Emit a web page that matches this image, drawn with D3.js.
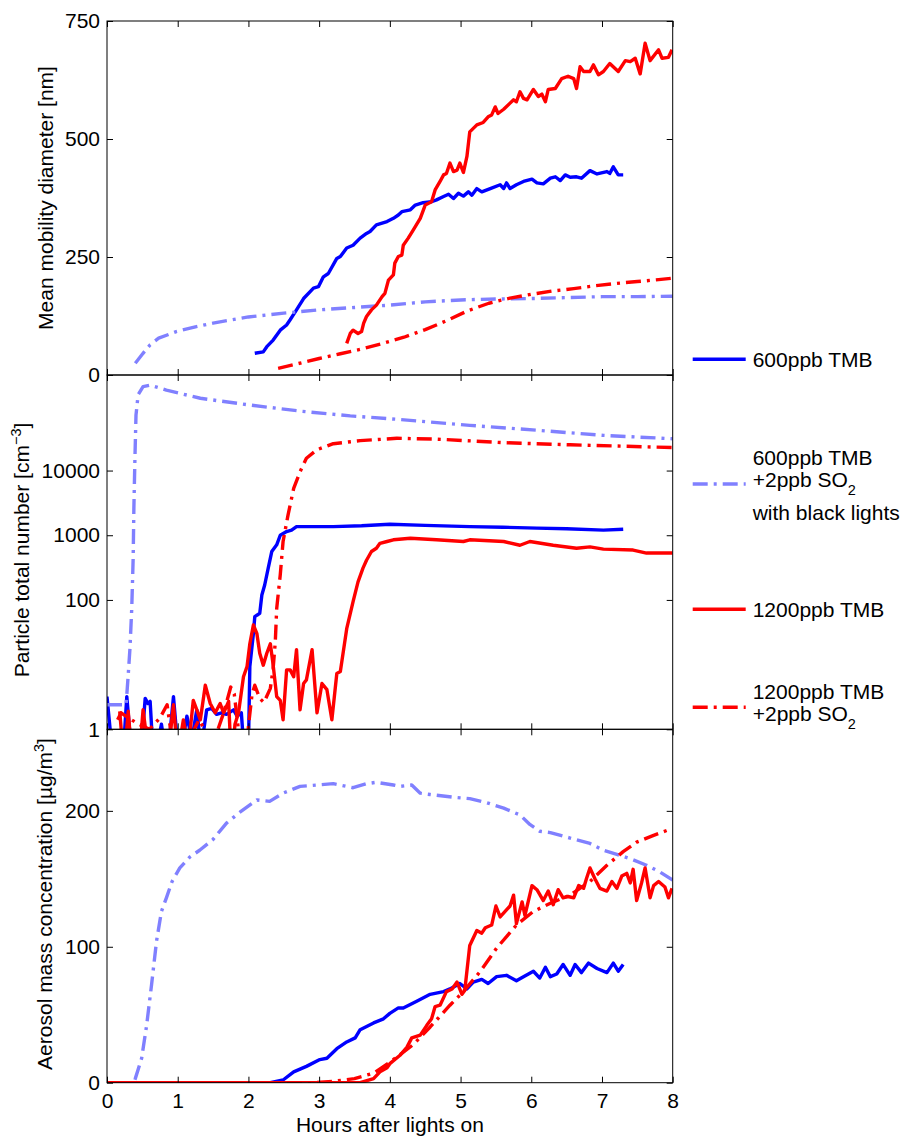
<!DOCTYPE html>
<html><head><meta charset="utf-8">
<script src="https://cdn.jsdelivr.net/npm/d3@7"></script>
<style>
body{margin:0;background:#fff}
text{font-family:"Liberation Sans",Arial,Helvetica,sans-serif;fill:#000}
</style>
</head><body>
<svg id="chart" width="907" height="1139"></svg>
<script>
// ---------- tick values ----------
const hourTicks = [0,1,2,3,4,5,6,7,8];
const diamTicks = [0,250,500,750];
const numTicks  = [1,100,1000,10000];
const massTicks = [0,100,200];

// ---------- series names / legend ----------
const seriesNames = ["600ppb TMB","600ppb TMB +2ppb SO2 with black lights","1200ppb TMB","1200ppb TMB +2ppb SO2"];

// ---------- Panel 1: mean mobility diameter [nm]  ([hour, value]) ----------
const diam600 = [[2.09,46],[2.21,49],[2.26,60],[2.35,74],[2.45,95],[2.54,106],[2.59,117],[2.68,138],[2.78,162],[2.92,184],[2.99,187],[3.06,208],[3.13,215],[3.25,247],[3.30,251],[3.39,269],[3.48,275],[3.58,290],[3.67,300],[3.72,304],[3.81,318],[3.96,325],[4.05,332],[4.12,339],[4.17,346],[4.29,350],[4.36,360],[4.47,365],[4.59,367],[4.66,371],[4.76,378],[4.83,383],[4.90,374],[4.97,385],[5.04,379],[5.11,388],[5.16,381],[5.23,395],[5.30,388],[5.42,395],[5.56,403],[5.61,395],[5.65,407],[5.70,395],[5.79,403],[5.89,410],[6.01,415],[6.08,407],[6.17,405],[6.27,417],[6.34,420],[6.41,412],[6.48,424],[6.55,419],[6.64,420],[6.71,417],[6.83,433],[6.93,426],[7.07,431],[7.11,427],[7.16,441],[7.23,424],[7.30,424]];
const diam600SO2 = [[0.40,25],[0.51,46],[0.61,64],[0.73,78],[0.98,92],[1.25,102],[1.5,110],[2.0,123],[2.5,131],[3.0,138],[3.5,143],[4.0,148],[4.5,155],[5.0,159],[5.5,161],[6.0,162],[6.5,164],[7.0,166],[7.5,166],[8.0,167]];
const diam1200 = [[3.39,67],[3.44,88],[3.48,95],[3.55,88],[3.60,92],[3.63,110],[3.67,124],[3.74,138],[3.81,148],[3.89,166],[3.93,173],[3.98,201],[4.05,212],[4.07,237],[4.12,251],[4.17,254],[4.19,275],[4.26,290],[4.33,307],[4.43,332],[4.50,360],[4.59,367],[4.64,392],[4.71,410],[4.76,424],[4.80,427],[4.85,449],[4.90,431],[4.95,434],[4.99,449],[5.04,429],[5.09,463],[5.13,515],[5.23,530],[5.32,535],[5.39,547],[5.44,551],[5.49,568],[5.53,554],[5.61,563],[5.70,576],[5.75,583],[5.79,579],[5.84,600],[5.89,586],[5.94,583],[6.03,605],[6.10,590],[6.15,595],[6.20,579],[6.24,605],[6.34,607],[6.43,628],[6.52,633],[6.60,628],[6.64,607],[6.69,653],[6.74,643],[6.83,643],[6.88,657],[6.95,636],[7.02,643],[7.11,660],[7.23,643],[7.33,666],[7.40,664],[7.47,671],[7.54,638],[7.61,703],[7.68,666],[7.80,689],[7.85,671],[7.94,673],[7.99,689]];
const diam1200SO2 = [[2.42,14],[2.7,24],[3.0,35],[3.3,45],[3.6,55],[3.9,67],[4.2,80],[4.5,96],[4.8,115],[5.1,136],[5.4,152],[5.7,163],[6.0,171],[6.3,178],[6.6,183],[6.9,189],[7.2,194],[7.5,198],[7.8,202],[8.0,205]];

// ---------- Panel 2: particle total number [cm^-3] (log) ----------
const num600 = [[0,3.2],[0.09,0.3],[0.22,0.3],[0.28,3.2],[0.36,0.3],[0.47,0.3],[0.54,3.0],[0.58,2.5],[0.61,2.7],[0.66,0.3],[0.77,1.2],[0.85,0.3],[0.94,3.2],[1.02,0.3],[1.13,1.6],[1.2,0.7],[1.27,2.0],[1.33,0.5],[1.41,2.0],[1.48,2.1],[1.55,1.7],[1.62,1.8],[1.69,1.7],[1.79,2.0],[1.84,1.6],[1.9,1.8],[1.95,0.3],[2.0,0.5],[2.02,9.3],[2.07,30],[2.09,55],[2.12,58],[2.16,62],[2.19,119],[2.23,170],[2.28,310],[2.33,560],[2.40,710],[2.45,1000],[2.54,1140],[2.61,1200],[2.68,1360],[3.2,1360],[3.6,1400],[4.0,1480],[4.5,1420],[5.13,1360],[5.6,1330],[6.08,1290],[6.5,1260],[7.02,1200],[7.30,1240]];
const num600SO2 = [[0,2.4],[0.27,2.4],[0.28,3.4],[0.30,6.9],[0.325,18],[0.35,74],[0.37,440],[0.38,2600],[0.395,15500],[0.41,72000],[0.44,148000],[0.51,198000],[0.61,209000],[0.84,175000],[1.32,131000],[2.02,103000],[2.73,83000],[3.44,70000],[4.10,62000],[5.13,50000],[6.08,42000],[7.02,35000],[8.0,31000]];
const num1200 = [[0.18,1.9],[0.24,0.3],[0.30,1.9],[0.36,0.3],[0.45,0.3],[0.51,2.0],[0.58,0.5],[0.63,0.3],[0.85,0.3],[0.94,2.4],[1.0,0.4],[1.08,1.4],[1.15,0.5],[1.22,2.8],[1.27,2.0],[1.32,1.4],[1.39,4.8],[1.46,2.5],[1.53,1.8],[1.60,2.5],[1.65,1.8],[1.72,2.7],[1.76,0.3],[1.81,1.2],[1.86,1.8],[1.93,6.5],[1.98,9.3],[2.02,21],[2.07,41],[2.12,30],[2.16,15],[2.21,9.8],[2.26,15],[2.31,21],[2.35,9.8],[2.40,3.2],[2.45,2.8],[2.49,1.4],[2.54,8.3],[2.59,8.3],[2.64,6.5],[2.68,17],[2.73,2.0],[2.78,5.1],[2.82,5.8],[2.90,17],[2.97,1.8],[3.04,5.1],[3.11,4.1],[3.18,1.4],[3.25,7.3],[3.30,7.8],[3.39,36],[3.48,94],[3.55,190],[3.62,310],[3.67,410],[3.74,560],[3.81,630],[3.86,750],[3.96,800],[4.05,850],[4.29,900],[4.66,850],[5.04,800],[5.13,850],[5.61,800],[5.84,700],[5.98,800],[6.31,700],[6.64,630],[6.83,660],[7.02,610],[7.44,590],[7.63,530],[8.0,530]];
const num1200SO2 = [[0.15,1.4],[0.2,1.8],[0.3,1.5],[0.45,1.2],[0.6,1.0],[0.75,1.5],[0.85,2.4],[0.95,0.4],[1.1,0.5],[1.3,1.4],[1.5,0.6],[1.65,1.8],[1.75,4.5],[1.8,3.5],[1.9,0.4],[1.98,0.5],[2.0,1.1],[2.05,3.4],[2.09,4.8],[2.16,3.0],[2.22,2.6],[2.31,4.3],[2.35,8.8],[2.38,22.6],[2.40,74],[2.45,243],[2.49,800],[2.56,2050],[2.64,5300],[2.73,9600],[2.82,15500],[2.97,21000],[3.2,26000],[3.58,29000],[4.1,31500],[4.66,30600],[5.61,27000],[6.55,25000],[8.0,22700]];

// ---------- Panel 3: aerosol mass concentration [ug/m3] ----------
const mass600 = [[0,0],[2.31,0],[2.49,2],[2.64,8],[2.82,12],[3.01,17],[3.11,18],[3.25,25],[3.39,30],[3.51,33],[3.58,39],[3.77,44],[3.91,47],[4.0,51],[4.12,55],[4.19,55],[4.38,60],[4.57,65],[4.76,67],[4.85,69],[4.99,73],[5.09,69],[5.18,74],[5.30,76],[5.39,73],[5.51,78],[5.65,79],[5.79,75],[5.89,78],[6.03,82],[6.12,77],[6.20,85],[6.27,78],[6.36,80],[6.45,87],[6.55,79],[6.62,87],[6.71,81],[6.81,88],[6.93,84],[7.07,81],[7.16,88],[7.23,82],[7.30,87]];
const mass600SO2 = [[0,0],[0.38,0],[0.40,3],[0.49,18],[0.56,42],[0.63,72],[0.70,104],[0.77,126],[0.84,136],[0.92,148],[1.03,158],[1.17,166],[1.31,171],[1.50,179],[1.69,191],[1.88,199],[2.12,208],[2.3,207],[2.49,213],[2.73,218],[2.97,219],[3.20,220],[3.48,217],[3.67,220],[3.81,221],[4.05,219],[4.14,218],[4.31,219],[4.43,213],[4.57,212],[4.90,210],[5.13,209],[5.37,206],[5.61,202],[5.84,197],[5.98,190],[6.12,185],[6.27,184],[6.55,180],[6.83,176],[7.02,171],[7.21,168],[7.44,164],[7.63,160],[7.82,155],[8.0,149]];
const mass1200 = [[0,0],[3.58,0],[3.77,3],[3.86,8],[3.96,11],[4.0,14],[4.14,20],[4.24,26],[4.31,33],[4.43,35],[4.52,42],[4.59,47],[4.64,56],[4.71,57],[4.80,67],[4.88,69],[4.95,74],[5.02,65],[5.06,68],[5.13,101],[5.23,112],[5.30,110],[5.35,114],[5.44,116],[5.50,130],[5.56,122],[5.70,130],[5.75,138],[5.79,117],[5.87,133],[5.91,123],[6.01,145],[6.08,142],[6.17,134],[6.24,141],[6.31,131],[6.38,142],[6.45,136],[6.52,137],[6.60,136],[6.67,145],[6.74,143],[6.78,150],[6.83,158],[6.90,150],[6.97,143],[7.07,141],[7.14,148],[7.21,143],[7.28,152],[7.35,154],[7.40,147],[7.44,157],[7.49,134],[7.56,147],[7.61,158],[7.68,136],[7.73,145],[7.80,148],[7.89,144],[7.94,136],[7.99,143]];
const mass1200SO2 = [[0,0],[2.9,0],[3.2,1],[3.5,3],[3.77,7],[4.0,15],[4.33,28],[4.57,41],[4.85,57],[5.04,67],[5.28,82],[5.51,99],[5.79,116],[6.03,126],[6.27,132],[6.55,138],[6.83,148],[7.07,160],[7.30,170],[7.49,177],[7.73,182],[7.99,187]];

// ---------- drawing ----------
const svg = d3.select("#chart");
const L = 107, R = 672.7;
const FONT = 21, SUBFONT = 14.5;
const LW = 3.4;
const BLUE = "#0000ff", LBLUE = "#8080ff", RED = "#ff0000";
const DASHDOT = "15,6,3,6";
const x = d3.scaleLinear().domain([0,8]).range([L,R]);

const panels = [
  {top:21, bot:375, y:d3.scaleLinear().domain([0,750]).range([375,21]), ticks:diamTicks,
   series:[diam600,diam600SO2,diam1200,diam1200SO2]},
  {top:375, bot:729.3, y:d3.scaleLog().domain([1,3e5]).range([729.3,375]), ticks:numTicks,
   series:[num600,num600SO2,num1200,num1200SO2]},
  {top:729.3, bot:1082.7, y:d3.scaleLinear().domain([0,260]).range([1082.7,729.3]), ticks:massTicks,
   series:[mass600,mass600SO2,mass1200,mass1200SO2]}
];
const styles = [
  {c:BLUE, d:null},{c:LBLUE, d:DASHDOT},{c:RED, d:null},{c:RED, d:DASHDOT}
];

panels.forEach((p,i)=>{
  const cid = "clip"+i;
  svg.append("clipPath").attr("id",cid).append("rect")
    .attr("x",L).attr("y",p.top).attr("width",R-L).attr("height",p.bot-p.top);
  const g = svg.append("g").attr("clip-path",`url(#${cid})`);
  const line = d3.line().x(d=>x(d[0])).y(d=>p.y(d[1]));
  p.series.forEach((s,k)=>{
    g.append("path").datum(s).attr("d",line)
      .attr("fill","none").attr("stroke",styles[k].c).attr("stroke-width",LW)
      .attr("stroke-linejoin","round")
      .attr("stroke-dasharray",styles[k].d);
  });
  // axes
  const axL = svg.append("g").attr("transform",`translate(${L},0)`)
    .call(d3.axisLeft(p.y).tickValues(p.ticks).tickSizeInner(-6).tickSizeOuter(0).tickPadding(7)
      .tickFormat(d=>String(d)));
  const axR = svg.append("g").attr("transform",`translate(${R},0)`)
    .call(d3.axisRight(p.y).tickValues(p.ticks).tickSizeInner(-6).tickSizeOuter(0).tickFormat(""));
  const axT = svg.append("g").attr("transform",`translate(0,${p.top})`)
    .call(d3.axisTop(x).tickValues(hourTicks).tickSizeInner(-6).tickSizeOuter(0).tickFormat(""));
  const axB = svg.append("g").attr("transform",`translate(0,${p.bot})`)
    .call(d3.axisBottom(x).tickValues(hourTicks).tickSizeInner(-6).tickSizeOuter(0).tickPadding(10)
      .tickFormat(i===2 ? (d=>String(d)) : ""));
  [axL,axR,axT,axB].forEach(a=>{
    a.select(".domain").remove();
    a.selectAll("line").attr("stroke","#000").attr("stroke-width",1);
    a.selectAll("text").attr("font-size",FONT).attr("font-family",'"Liberation Sans",Arial,sans-serif').attr("fill","#000");
  });
  svg.append("rect").attr("x",L).attr("y",p.top).attr("width",R-L).attr("height",p.bot-p.top)
    .attr("fill","none").attr("stroke","#000").attr("stroke-width",1);
});

// axis titles
svg.append("text").attr("x",389.9).attr("y",1132).attr("text-anchor","middle").attr("font-size",FONT)
  .text("Hours after lights on");

svg.append("text").attr("transform","translate(53,198) rotate(-90)").attr("text-anchor","middle")
  .attr("font-size",FONT).text("Mean mobility diameter [nm]");

const t2 = svg.append("text").attr("transform","translate(28.5,550) rotate(-90)").attr("text-anchor","middle")
  .attr("font-size",FONT);
t2.append("tspan").text("Particle total number [cm");
t2.append("tspan").attr("dy",-8).attr("font-size",SUBFONT).text("\u22123");
t2.append("tspan").attr("dy",8).text("]");

const t3 = svg.append("text").attr("transform","translate(52,904) rotate(-90)").attr("text-anchor","middle")
  .attr("font-size",FONT);
t3.append("tspan").text("Aerosol mass concentration [\u00b5g/m");
t3.append("tspan").attr("dy",-8).attr("font-size",SUBFONT).text("3");
t3.append("tspan").attr("dy",8).text("]");

// legend
const legendItems = [
  {y:359.3, st:styles[0], lines:[{t:"600ppb TMB", b:366.5}]},
  {y:484, st:styles[1], lines:[{t:"600ppb TMB", b:465},{t:"+2ppb SO", sub:"2", b:486.5},{t:"with black lights", b:520}]},
  {y:609.3, st:styles[2], lines:[{t:"1200ppb TMB", b:616.5}]},
  {y:707.3, st:styles[3], lines:[{t:"1200ppb TMB", b:699},{t:"+2ppb SO", sub:"2", b:721}]}
];
legendItems.forEach(it=>{
  svg.append("line").attr("x1",692.7).attr("x2",745.7).attr("y1",it.y).attr("y2",it.y)
    .attr("stroke",it.st.c).attr("stroke-width",LW).attr("stroke-dasharray",it.st.d);
  it.lines.forEach(l=>{
    const t = svg.append("text").attr("x",752.7).attr("y",l.b).attr("font-size",FONT);
    t.append("tspan").text(l.t);
    if(l.sub){ t.append("tspan").attr("dy",8).attr("font-size",SUBFONT).text(l.sub); }
  });
});
</script>
</body></html>
